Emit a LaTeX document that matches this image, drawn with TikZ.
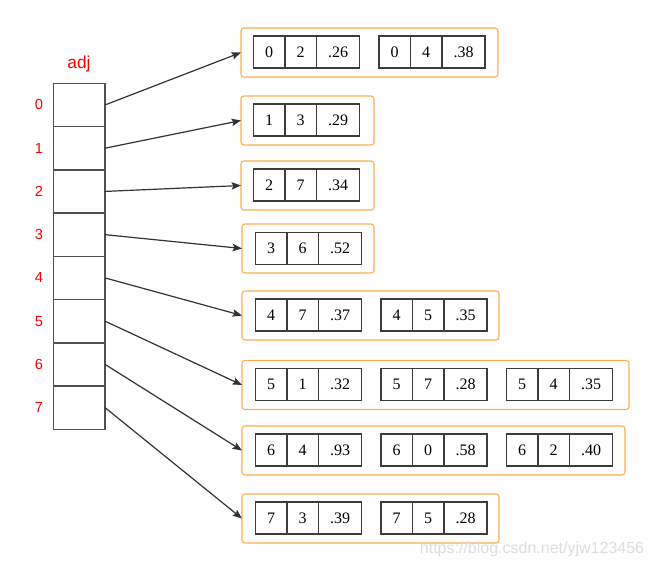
\documentclass[tikz,border=0pt]{standalone}
\usepackage{fontspec}
\setmainfont{Liberation Serif}
\newfontfamily\lsans{Liberation Sans}
\usetikzlibrary{arrows.meta}
\definecolor{boxorange}{RGB}{255,172,80}
\definecolor{celline}{RGB}{60,60,60}
\definecolor{adjline}{RGB}{80,80,80}
\definecolor{arrowc}{RGB}{51,51,51}
\definecolor{wmark}{RGB}{222,222,222}
\tikzset{
  cellA/.style={draw=celline, line width=1.2pt, outer sep=0pt, inner sep=0pt,
    minimum width=23.6pt, minimum height=24pt, font=\fontsize{12}{14}\selectfont},
  cellC/.style={cellA, minimum width=32.4pt},
  listbox/.style={draw=boxorange, line width=0.8pt, rounded corners=2.2pt,
    minimum height=36.75pt, inner sep=0pt, outer sep=0pt, anchor=north west},
  adjcell/.style={draw=adjline, line width=1.2pt, outer sep=0pt, inner sep=0pt,
    minimum width=38.7pt, minimum height=32.44pt, anchor=north west},
  idx/.style={text=red, font=\lsans\fontsize{11}{13}\selectfont},
  arr/.style={draw=arrowc, line width=0.9pt, -{Stealth[length=7pt,width=5.5pt,inset=1.2pt]}}
}
\newcommand\rec[6]{%
  \node[cellA, anchor=north west] (#1a) at (#2,#3) {#4};
  \node[cellA, anchor=north west] (#1b) at (#1a.north east) {#5};
  \node[cellC, anchor=north west] (#1c) at (#1b.north east) {#6};
}
\begin{document}
\begin{tikzpicture}[x=0.75pt,y=-0.75pt]
\useasboundingbox (0,0) rectangle (652,567);
% adj array
\node[text=red, font=\lsans\fontsize{13}{15}\selectfont] (adj) at (79,64.5) {adj};
\foreach \i in {0,...,7} {
  \node[adjcell] (A\i) at (53.5,{83.3+43.25*\i}) {};
  \node[idx] (I\i) at (39,{104.9+43.25*\i}) {\i};
}
% list boxes
\node[listbox, minimum width=192.75pt] (L0) at (241,28) {};
\node[listbox, minimum width=99.75pt] (L1) at (241,96) {};
\node[listbox, minimum width=99.75pt] (L2) at (241,161) {};
\node[listbox, minimum width=99pt] (L3) at (242,224) {};
\node[listbox, minimum width=192.75pt] (L4) at (242,291) {};
\node[listbox, minimum width=290.25pt] (L5) at (242,360.5) {};
\node[listbox, minimum width=287.25pt] (L6) at (242,426) {};
\node[listbox, minimum width=192.75pt] (L7) at (242,494) {};
% records
\rec{r0x}{253.5}{36}{0}{2}{.26}
\rec{r0y}{379}{36}{0}{4}{.38}
\rec{r1x}{253.5}{104}{1}{3}{.29}
\rec{r2x}{253.5}{169}{2}{7}{.34}
\rec{r3x}{255.5}{232.5}{3}{6}{.52}
\rec{r4x}{255.5}{299}{4}{7}{.37}
\rec{r4y}{381}{299}{4}{5}{.35}
\rec{r5x}{255.5}{368.5}{5}{1}{.32}
\rec{r5y}{381}{368.5}{5}{7}{.28}
\rec{r5z}{506.5}{368.5}{5}{4}{.35}
\rec{r6x}{255.5}{434}{6}{4}{.93}
\rec{r6y}{381}{434}{6}{0}{.58}
\rec{r6z}{506.5}{434}{6}{2}{.40}
\rec{r7x}{255.5}{502}{7}{3}{.39}
\rec{r7y}{381}{502}{7}{5}{.28}
% arrows
\foreach \i in {0,...,7} {
  \draw[arr] (A\i.east) -- (L\i.west);
}
% watermark
\node[text=wmark, font=\lsans\fontsize{12}{14}\selectfont] (wm) at (532,549) {https://blog.csdn.net/yjw123456};
\end{tikzpicture}
\end{document}
